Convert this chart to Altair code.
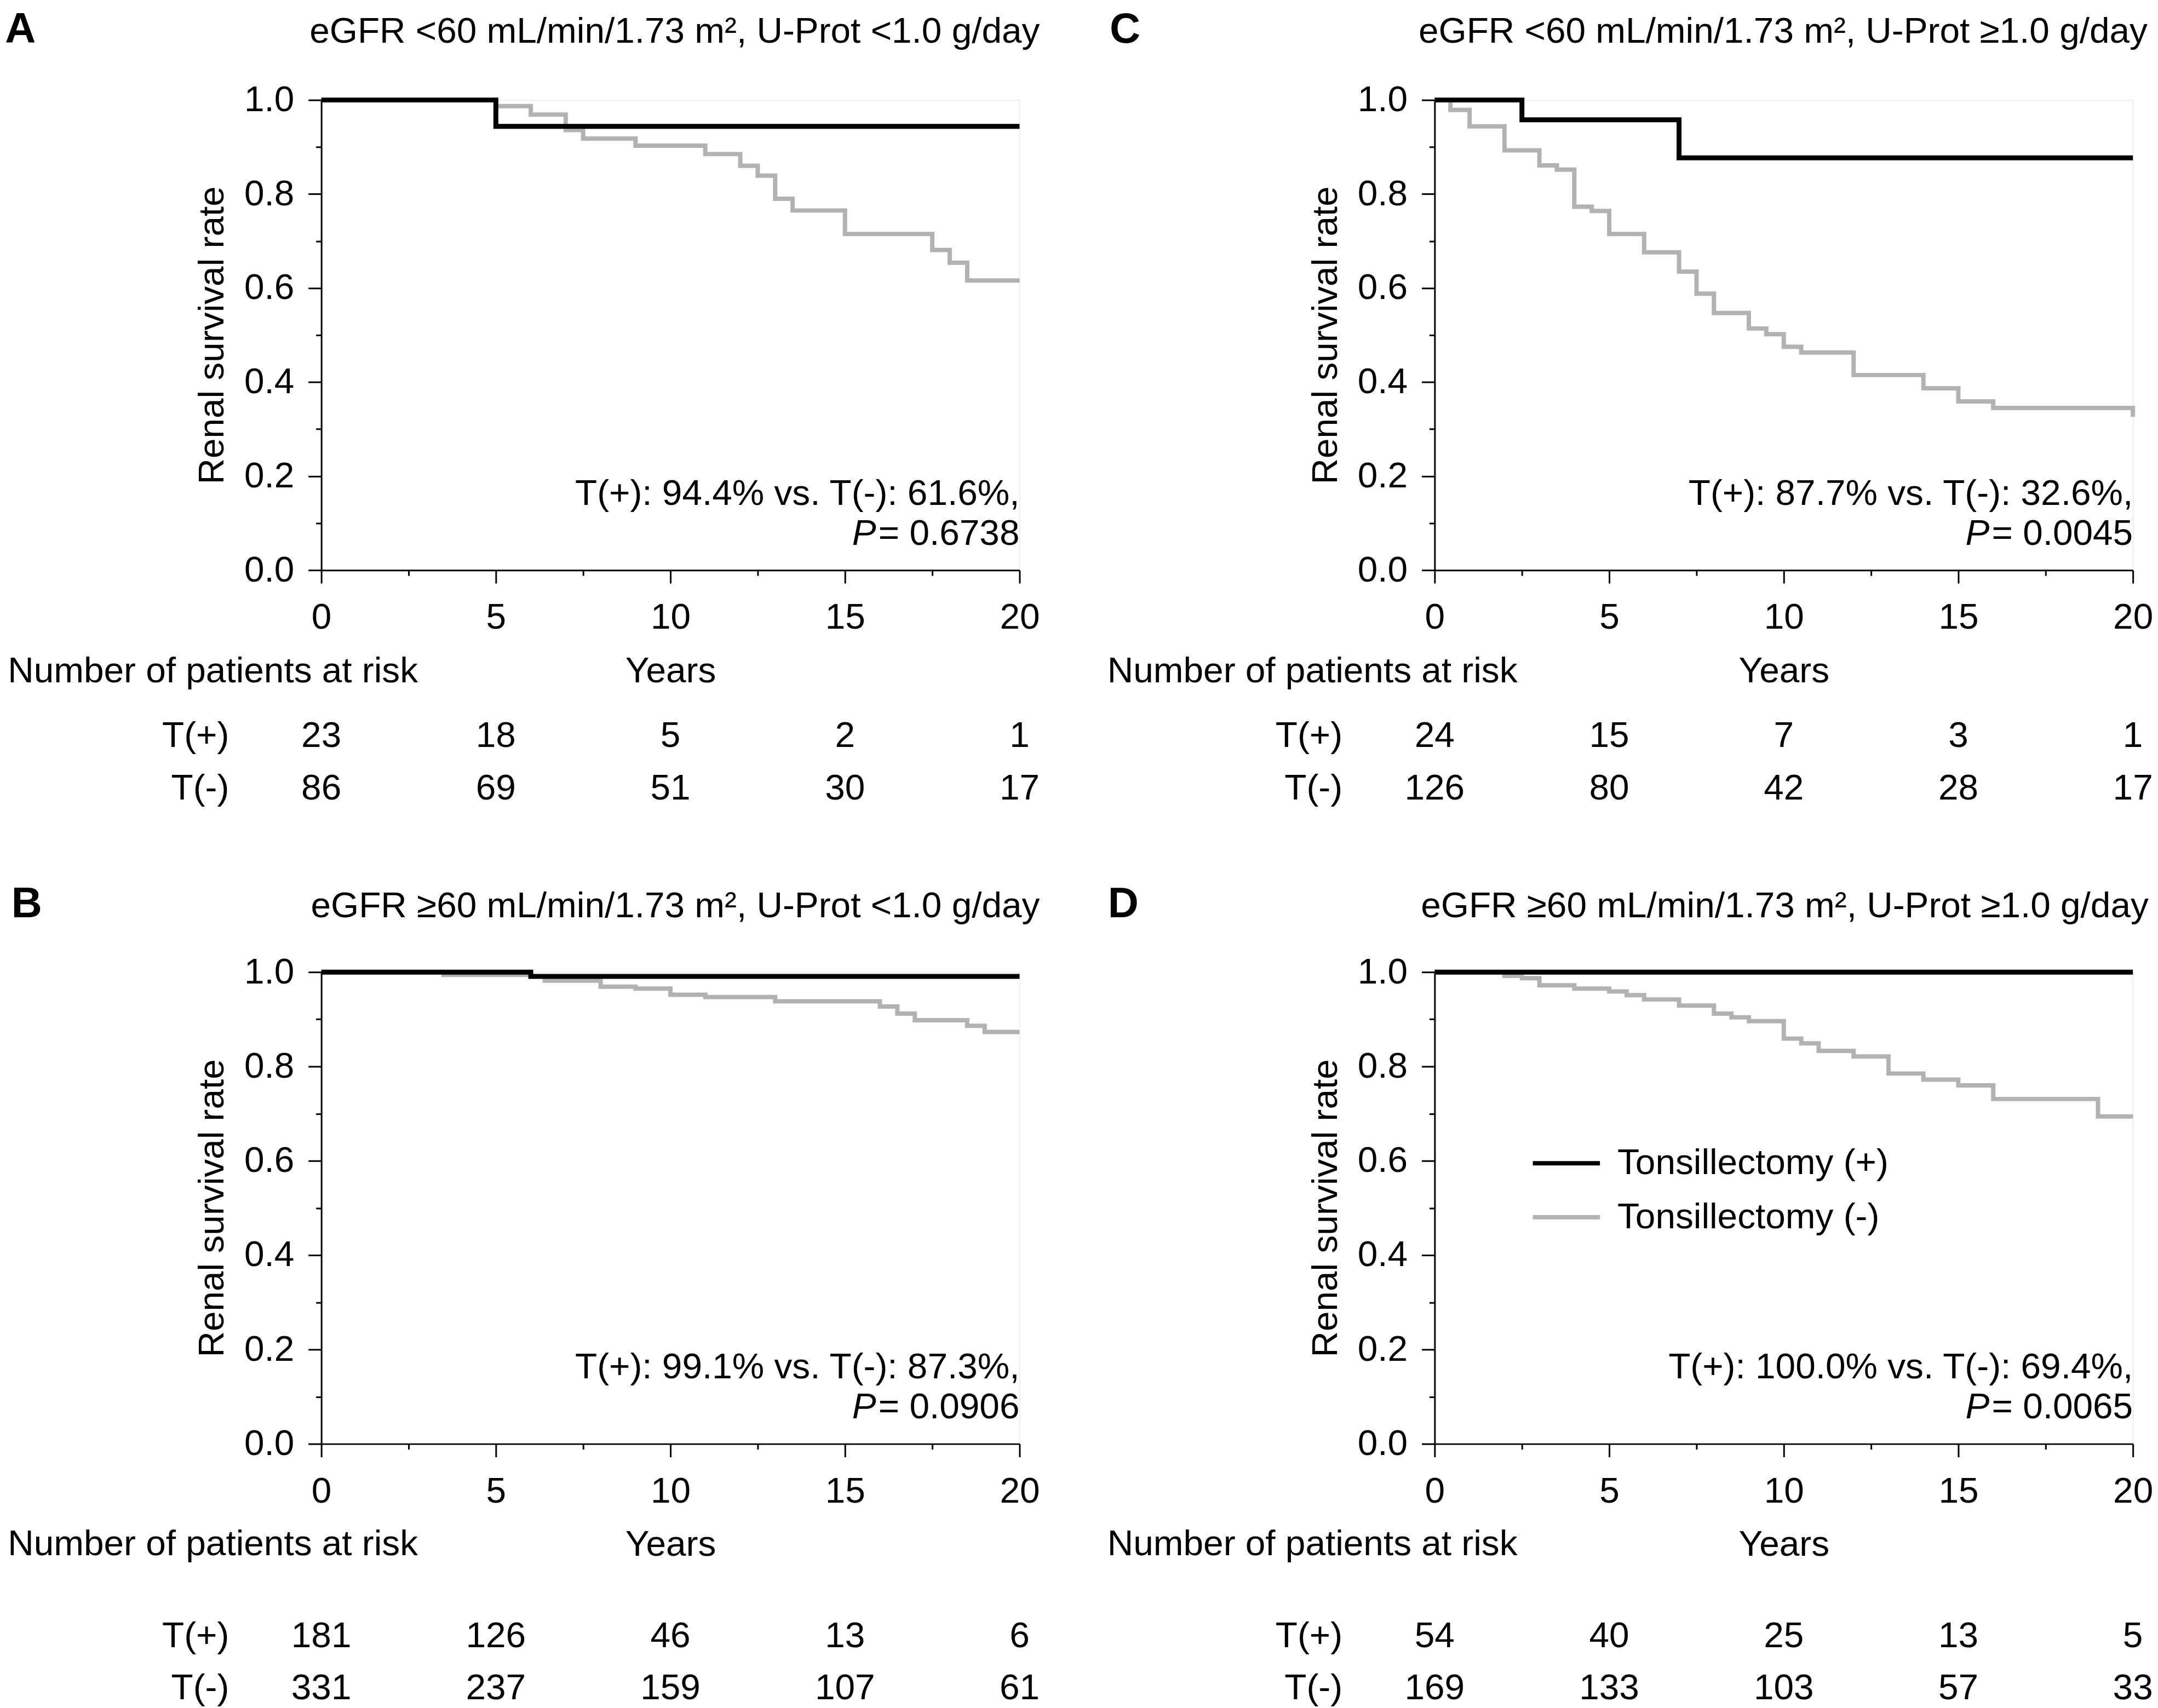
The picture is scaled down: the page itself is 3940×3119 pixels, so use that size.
import altair as alt
import pandas as pd

FONT = "Liberation Sans"
GROUPS = ["Tonsillectomy (+)", "Tonsillectomy (-)"]
COLORS = ["#000000", "#b2b2b2"]
RISK_YEARS = [0, 5, 10, 15, 20]
ROW_LABELS = ["T(+)", "T(-)"]

# ---------------- Panel A ----------------
A_plus_years = [0, 5.0, 20]
A_plus_surv = [1.0, 0.944, 0.944]
A_minus_years = [0, 5.0, 6.0, 7.0, 7.5, 9.0, 11.0, 12.0, 12.5, 13.0, 13.5, 15.0, 17.5, 18.0, 18.5, 20]
A_minus_surv = [1.0, 0.987, 0.969, 0.936, 0.918, 0.903, 0.885, 0.860, 0.839, 0.790, 0.765, 0.715, 0.681, 0.654, 0.616, 0.616]
A_risk_plus = [23, 18, 5, 2, 1]
A_risk_minus = [86, 69, 51, 30, 17]
A_title = "eGFR <60 mL/min/1.73 m², U-Prot <1.0 g/day"
A_annot = "T(+): 94.4% vs. T(-): 61.6%,"
A_p = "= 0.6738"

# ---------------- Panel B ----------------
B_plus_years = [0, 6.0, 20]
B_plus_surv = [1.0, 0.991, 0.991]
B_minus_years = [0, 3.5, 6.0, 6.4, 8.0, 9.0, 10.0, 11.0, 13.0, 16.0, 16.5, 17.0, 18.5, 19.0, 20]
B_minus_surv = [1.0, 0.994, 0.991, 0.982, 0.969, 0.965, 0.952, 0.947, 0.938, 0.927, 0.912, 0.898, 0.886, 0.873, 0.873]
B_risk_plus = [181, 126, 46, 13, 6]
B_risk_minus = [331, 237, 159, 107, 61]
B_title = "eGFR ≥60 mL/min/1.73 m², U-Prot <1.0 g/day"
B_annot = "T(+): 99.1% vs. T(-): 87.3%,"
B_p = "= 0.0906"

# ---------------- Panel C ----------------
C_plus_years = [0, 2.5, 7.0, 20]
C_plus_surv = [1.0, 0.958, 0.877, 0.877]
C_minus_years = [0, 0.45, 1.0, 2.0, 3.0, 3.5, 4.0, 4.5, 5.0, 6.0, 7.0, 7.5, 8.0, 9.0, 9.5, 10.0, 10.5, 12.0, 14.0, 15.0, 16.0, 20.0]
C_minus_surv = [1.0, 0.979, 0.944, 0.893, 0.861, 0.852, 0.773, 0.764, 0.715, 0.676, 0.635, 0.588, 0.547, 0.514, 0.502, 0.475, 0.463, 0.415, 0.387, 0.359, 0.345, 0.326]
C_risk_plus = [24, 15, 7, 3, 1]
C_risk_minus = [126, 80, 42, 28, 17]
C_title = "eGFR <60 mL/min/1.73 m², U-Prot ≥1.0 g/day"
C_annot = "T(+): 87.7% vs. T(-): 32.6%,"
C_p = "= 0.0045"

# ---------------- Panel D ----------------
D_plus_years = [0, 20]
D_plus_surv = [1.0, 1.0]
D_minus_years = [0, 2.0, 2.5, 3.0, 4.0, 5.0, 5.5, 6.0, 7.0, 8.0, 8.5, 9.0, 10.0, 10.5, 11.0, 12.0, 13.0, 14.0, 15.0, 16.0, 19.0, 20]
D_minus_surv = [1.0, 0.992, 0.987, 0.972, 0.965, 0.959, 0.951, 0.942, 0.929, 0.912, 0.904, 0.896, 0.859, 0.849, 0.833, 0.821, 0.785, 0.772, 0.760, 0.731, 0.694, 0.694]
D_risk_plus = [54, 40, 25, 13, 5]
D_risk_minus = [169, 133, 103, 57, 33]
D_title = "eGFR ≥60 mL/min/1.73 m², U-Prot ≥1.0 g/day"
D_annot = "T(+): 100.0% vs. T(-): 69.4%,"
D_p = "= 0.0065"

# ---------------- layout (annotation anchors, in axis units) ----------------
LAYOUT = {
    "A": dict(h=862, letter_x=-9.06, number_x=-8.98, title_x=20.58, title_y=1.122,
              years_y=-0.239, plus_y=-0.376, minus_y=-0.488),
    "B": dict(h=865, letter_x=-8.88, number_x=-8.98, title_x=20.58, title_y=1.116,
              years_y=-0.236, plus_y=-0.431, minus_y=-0.541),
    "C": dict(h=862, letter_x=-9.31, number_x=-9.375, title_x=20.42, title_y=1.122,
              years_y=-0.239, plus_y=-0.376, minus_y=-0.488),
    "D": dict(h=865, letter_x=-9.36, number_x=-9.375, title_x=20.45, title_y=1.116,
              years_y=-0.236, plus_y=-0.431, minus_y=-0.541),
}
ROWLABEL_X = -2.64
ANNOT_Y1 = 0.139
ANNOT_Y2 = 0.054
FS = 66

X_TICKS = [i * 2.5 for i in range(9)]
Y_TICKS = [round(i * 0.1, 1) for i in range(11)]

x_axis = alt.Axis(
    values=X_TICKS,
    labelExpr="datum.value % 5 == 0 ? datum.label : ''",
    tickSize={"condition": {"test": "datum.value % 5 == 0", "value": 24}, "value": 10},
    tickWidth=3, domainWidth=3, domainColor="black", tickColor="black",
    labelFont=FONT, labelFontSize=FS, labelColor="black", labelPadding=31,
    labelFlush=False, labelOverlap=False, grid=False,
    titleFont=FONT, titleFontSize=FS, titleFontWeight="normal", titleColor="black",
    titlePadding=33, title="Years",
)
y_axis = alt.Axis(
    values=Y_TICKS, format=".1f",
    labelExpr="round(datum.value * 10) % 2 == 0 ? datum.label : ''",
    tickSize={"condition": {"test": "round(datum.value * 10) % 2 == 0", "value": 24}, "value": 10},
    tickWidth=3, domainWidth=3, domainColor="black", tickColor="black",
    labelFont=FONT, labelFontSize=FS, labelColor="black", labelPadding=26,
    labelFlush=False, labelOverlap=False, grid=False,
    titleFont=FONT, titleFontSize=FS, titleFontWeight="normal", titleColor="black",
    titlePadding=24, title="Renal survival rate",
)

legend = alt.Legend(
    orient="none", legendX=2217, legendY=1884, title=None,
    symbolType="stroke", symbolStrokeWidth=8, symbolSize=15129,
    labelFont=FONT, labelFontSize=FS, labelColor="black", labelOffset=28,
    labelLimit=0, rowPadding=-36, padding=0,
)


def panel(key, plus_t, plus_s, minus_t, minus_s, risk_plus, risk_minus, title, annot, pval):
    L = LAYOUT[key]
    xs = alt.Scale(domain=[0, 20], nice=False, zero=False)
    ys = alt.Scale(domain=[0, 1], nice=False, zero=False)
    cscale = alt.Scale(domain=GROUPS, range=COLORS)

    def curve(t, s, grp, width):
        df = pd.DataFrame({"t": t, "s": s, "grp": grp})
        return alt.Chart(df).mark_line(interpolate="step-after", strokeWidth=width, strokeCap="butt").encode(
            x=alt.X("t:Q", scale=xs, axis=x_axis, title="Years"),
            y=alt.Y("s:Q", scale=ys, axis=y_axis, title="Renal survival rate"),
            color=alt.Color("grp:N", scale=cscale, legend=legend),
        )

    def text(df, **kw):
        return alt.Chart(df).mark_text(font=FONT, color="black", baseline="alphabetic", **kw).encode(
            x=alt.X("x:Q", scale=xs, axis=x_axis, title="Years"),
            y=alt.Y("y:Q", scale=ys, axis=y_axis, title="Renal survival rate"),
            text="label:N",
        )

    layers = [
        curve(minus_t, minus_s, GROUPS[1], 8),
        curve(plus_t, plus_s, GROUPS[0], 9),
        # panel letter
        text(pd.DataFrame({"x": [L["letter_x"]], "y": [L["title_y"]], "label": [key]}),
             align="left", fontSize=78, fontWeight="bold"),
        # panel title
        text(pd.DataFrame({"x": [L["title_x"]], "y": [L["title_y"]], "label": [title]}),
             align="right", fontSize=FS),
        # survival annotation
        text(pd.DataFrame({"x": [20], "y": [ANNOT_Y1], "label": [annot]}), align="right", fontSize=FS),
        text(pd.DataFrame({"x": [20], "y": [ANNOT_Y2], "label": [pval]}), align="right", fontSize=FS),
        text(pd.DataFrame({"x": [20], "y": [ANNOT_Y2], "label": ["P"]}), align="right", fontSize=FS,
             fontStyle="italic", dx=-263),
        # risk table
        text(pd.DataFrame({"x": [L["number_x"]], "y": [L["years_y"]], "label": ["Number of patients at risk"]}),
             align="left", fontSize=FS),
        text(pd.DataFrame({"x": [ROWLABEL_X, ROWLABEL_X], "y": [L["plus_y"], L["minus_y"]], "label": ROW_LABELS}),
             align="right", fontSize=FS),
        text(pd.DataFrame({"x": RISK_YEARS, "y": [L["plus_y"]] * 5, "label": [str(v) for v in risk_plus]}),
             align="center", fontSize=FS),
        text(pd.DataFrame({"x": RISK_YEARS, "y": [L["minus_y"]] * 5, "label": [str(v) for v in risk_minus]}),
             align="center", fontSize=FS),
    ]
    return alt.layer(*layers).properties(width=1280, height=L["h"])


pA = panel("A", A_plus_years, A_plus_surv, A_minus_years, A_minus_surv, A_risk_plus, A_risk_minus, A_title, A_annot, A_p)
pB = panel("B", B_plus_years, B_plus_surv, B_minus_years, B_minus_surv, B_risk_plus, B_risk_minus, B_title, B_annot, B_p)
pC = panel("C", C_plus_years, C_plus_surv, C_minus_years, C_minus_surv, C_risk_plus, C_risk_minus, C_title, C_annot, C_p)
pD = panel("D", D_plus_years, D_plus_surv, D_minus_years, D_minus_surv, D_risk_plus, D_risk_minus, D_title, D_annot, D_p)

chart = alt.concat(
    pA, pC, pB, pD, columns=2, spacing={"row": 737, "column": 761}, bounds="flush"
).properties(
    padding={"top": 1, "left": 0, "right": 0, "bottom": 0}, background="white"
).configure_view(strokeWidth=0, stroke="transparent").configure(font=FONT)

chart.save("out.html", embed_options={"renderer": "svg", "actions": False})
